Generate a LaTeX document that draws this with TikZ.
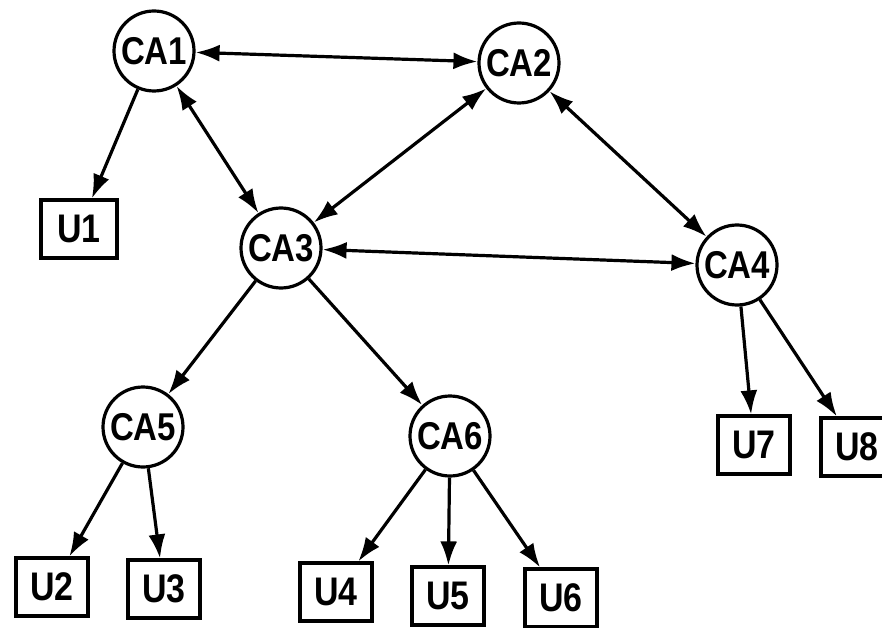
\documentclass[tikz,border=0pt]{standalone}
\usepackage{fontspec}
\usepackage{graphicx}
\setmainfont{Liberation Sans}
\usetikzlibrary{arrows.meta}
\newcommand{\lbl}[1]{\scalebox{0.97}[1.14]{#1}}
\begin{document}
\begin{tikzpicture}[x=1pt,y=-1pt,
  ca/.style={circle, draw, line width=3.2pt, minimum size=80pt, inner sep=0pt,
    font=\fontsize{34}{34}\selectfont\bfseries},
  ubox/.style={rectangle, draw, line width=3.2pt, minimum width=72pt, minimum height=58pt,
    inner sep=0pt, font=\fontsize{35}{35}\selectfont\bfseries},
  tip/.tip={Latex[length=24pt,width=17pt]},
  link/.style={line width=3.2pt, -tip},
  blink/.style={line width=3.2pt, tip-tip}]
\useasboundingbox (0,0) rectangle (882,628);
\fill[white] (0,0) rectangle (882,628);
\clip (0,0) rectangle (882,628);

\node[ca] (ca1) at (154,51) {\lbl{CA1}};
\node[ca] (ca2) at (519,63) {\lbl{CA2}};
\node[ca] (ca3) at (281,248) {\lbl{CA3}};
\node[ca] (ca4) at (737,265) {\lbl{CA4}};
\node[ca] (ca5) at (143,427) {\lbl{CA5}};
\node[ca] (ca6) at (450,436) {\lbl{CA6}};

\node[ubox, minimum width=76pt] (u1) at (79,229) {\lbl{U1}};
\node[ubox] (u2) at (52,587) {\lbl{U2}};
\node[ubox] (u3) at (164,589) {\lbl{U3}};
\node[ubox] (u4) at (336,592) {\lbl{U4}};
\node[ubox] (u5) at (448,596) {\lbl{U5}};
\node[ubox] (u6) at (561,598) {\lbl{U6}};
\node[ubox] (u7) at (754,445) {\lbl{U7}};
\node[ubox] (u8) at (857,447) {\lbl{U8}};

\draw[blink] (ca1) -- (ca2);
\draw[blink] (ca1) -- (ca3);
\draw[blink] (ca2) -- (ca3);
\draw[blink] (ca3) -- (ca4);
\draw[blink] (ca2) -- (ca4);
\draw[link] (ca1) -- (u1);
\draw[link] (ca3) -- (ca5);
\draw[link] (ca3) -- (ca6);
\draw[link] (ca5) -- (u2);
\draw[link] (ca5) -- (u3);
\draw[link] (ca6) -- (u4);
\draw[link] (ca6) -- (u5);
\draw[link] (ca6) -- (u6);
\draw[link] (ca4) -- (u7);
\draw[link] (ca4) -- (u8);
\end{tikzpicture}
\end{document}
